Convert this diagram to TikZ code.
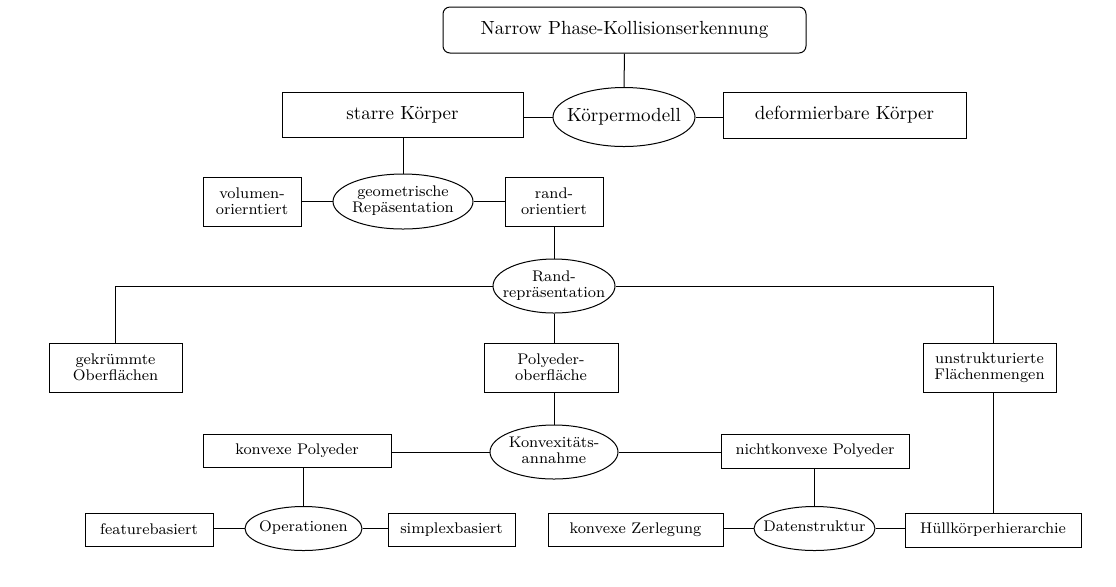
\documentclass[tikz,border=0pt]{standalone}
\usetikzlibrary{shapes.geometric}
% label that takes no width, so an ellipse keeps its given size
\newcommand{\ovaltext}[1]{\makebox[0pt][c]{\begin{tabular}{@{}c@{}}#1\end{tabular}}}
\begin{document}
\begin{tikzpicture}[x=0.5pt,y=-0.5pt,
  every node/.style={inner sep=0pt,align=center},
  big/.style={font=\fontsize{9.5}{10.5}\selectfont},
  small/.style={font=\fontsize{7.7}{8.1}\selectfont},
  box/.style={draw,line width=0.5pt,rectangle},
  oval/.style={draw,line width=0.5pt,ellipse},
  link/.style={line width=0.5pt}]
\useasboundingbox (0,0) rectangle (1116,586);

% top level
\node[box,big,rounded corners=3.5pt,minimum width=181.5pt,minimum height=23pt] (root) at (624.5,30) {Narrow Phase-Kollisionserkennung};
\node[oval,big,minimum width=71pt,minimum height=29.5pt] (model) at (624,117) {\ovaltext{Körpermodell}};
\node[box,big,minimum width=120.5pt,minimum height=22.5pt] (rigid) at (402.5,114.5) {starre Körper};
\node[box,big,minimum width=121.5pt,minimum height=23pt] (deform) at (844.5,115) {deformierbare Körper};

% geometric representation
\node[oval,small,minimum width=70pt,minimum height=27.5pt] (geo) at (403,201.5) {\ovaltext{geometrische\\Repäsentation}};
\node[box,small,minimum width=49pt,minimum height=24.5pt] (vol) at (252,201.5) {volumen-\\orierntiert};
\node[box,small,minimum width=49pt,minimum height=24.5pt] (bnd) at (554,201.5) {rand-\\orientiert};

% boundary representation
\node[oval,small,minimum width=61pt,minimum height=27pt] (brep) at (554,286) {\ovaltext{Rand-\\repräsentation}};
\node[box,small,minimum width=66.5pt,minimum height=24.5pt] (curved) at (115.5,367.5) {gekrümmte\\Oberflächen};
\node[box,small,minimum width=67pt,minimum height=24.5pt] (poly) at (551,367.5) {Polyeder-\\oberfläche};
\node[box,small,minimum width=66.5pt,minimum height=24.5pt] (soup) at (989.5,367.5) {unstrukturierte\\Flächenmengen};

% convexity
\node[oval,small,minimum width=64pt,minimum height=27pt] (conv) at (554,452) {\ovaltext{Konvexitäts-\\annahme}};
\node[box,small,minimum width=94pt,minimum height=16.5pt] (cpoly) at (297,450.5) {konvexe Polyeder};
\node[box,small,minimum width=94pt,minimum height=17pt] (ncpoly) at (815,451) {nichtkonvexe Polyeder};

% operations
\node[oval,small,minimum width=58.5pt,minimum height=22pt] (ops) at (303.5,528.5) {\ovaltext{Operationen}};
\node[box,small,minimum width=64pt,minimum height=16.5pt] (feat) at (149,529.5) {featurebasiert};
\node[box,small,minimum width=63.5pt,minimum height=16.5pt] (simp) at (451.5,529.5) {simplexbasiert};

% data structures
\node[oval,small,minimum width=60.5pt,minimum height=22pt] (data) at (814.5,528.5) {\ovaltext{Datenstruktur}};
\node[box,small,minimum width=87.5pt,minimum height=16.5pt] (decomp) at (635.5,529.5) {konvexe Zerlegung};
\node[box,small,minimum width=88pt,minimum height=17pt] (bvh) at (993,530) {Hüllkörperhierarchie};

% connectors
\draw[link] (root.south) -- (model.north);
\draw[link] (model.west) -- (model.west -| rigid.east);
\draw[link] (model.east) -- (model.east -| deform.west);
\draw[link] (rigid.south -| geo.north) -- (geo.north);
\draw[link] (geo.west) -- (geo.west -| vol.east);
\draw[link] (geo.east) -- (geo.east -| bnd.west);
\draw[link] (bnd.south) -- (brep.north);
\draw[link] (brep.west) -| (curved.north);
\draw[link] (brep.east) -| (soup.north -| bvh.north);
\draw[link] (brep.south) -- (brep.south |- poly.north);
\draw[link] (brep.south |- poly.south) -- (conv.north);
\draw[link] (conv.west) -- (conv.west -| cpoly.east);
\draw[link] (conv.east) -- (conv.east -| ncpoly.west);
\draw[link] (cpoly.south -| ops.north) -- (ops.north);
\draw[link] (ops.west) -- (ops.west -| feat.east);
\draw[link] (ops.east) -- (ops.east -| simp.west);
\draw[link] (ncpoly.south -| data.north) -- (data.north);
\draw[link] (data.west) -- (data.west -| decomp.east);
\draw[link] (data.east) -- (data.east -| bvh.west);
\draw[link] (soup.south -| bvh.north) -- (bvh.north);
\end{tikzpicture}
\end{document}
